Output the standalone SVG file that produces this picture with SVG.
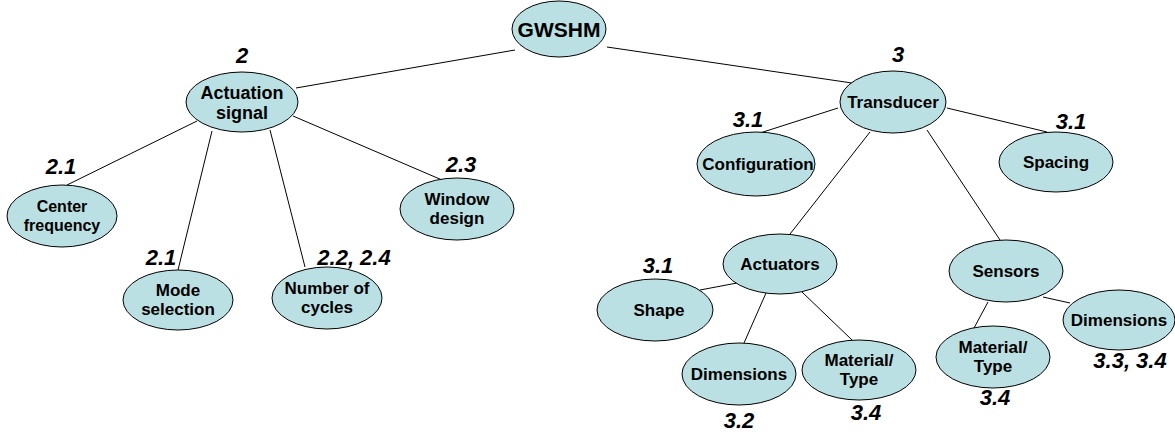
<svg xmlns="http://www.w3.org/2000/svg" width="1175" height="437" viewBox="0 0 1175 437">
<style>
.n ellipse{fill:#BBE0E3;stroke:#000;stroke-width:1}
.n text{font-family:"Liberation Sans",Arial,sans-serif;font-weight:bold;font-size:17px;text-anchor:middle;fill:#000}
.lbl{font-family:"Liberation Sans",Arial,sans-serif;font-weight:bold;font-style:italic;font-size:22px;text-anchor:middle;fill:#000}
#edges line{stroke:#000;stroke-width:1}
</style>
<rect width="1175" height="437" fill="#fff"/>
<g id="edges">
<line x1="515" y1="50" x2="296" y2="88"/>
<line x1="607" y1="47" x2="852" y2="83"/>
<line x1="197" y1="121" x2="67" y2="185"/>
<line x1="212" y1="131" x2="178" y2="270"/>
<line x1="270" y1="130" x2="305" y2="267"/>
<line x1="293" y1="116" x2="442" y2="180"/>
<line x1="838" y1="108" x2="760" y2="133"/>
<line x1="947" y1="108" x2="1047" y2="132"/>
<line x1="870" y1="132" x2="790" y2="234"/>
<line x1="927" y1="130" x2="1000" y2="240"/>
<line x1="737" y1="283" x2="700" y2="290"/>
<line x1="766" y1="293" x2="744" y2="343"/>
<line x1="802" y1="292" x2="852" y2="340"/>
<line x1="988" y1="302" x2="974" y2="328"/>
<line x1="1043" y1="297" x2="1070" y2="303"/>
</g>
<g id="gwshm" class="n"><ellipse cx="559" cy="29" rx="47" ry="28"/><text x="559" y="37" style="font-size:21px">GWSHM</text></g>
<g id="actuation" class="n"><ellipse cx="242" cy="102" rx="56" ry="30"/><text x="242" y="99" style="font-size:18px">Actuation</text><text x="242" y="119" style="font-size:18px">signal</text></g>
<g id="center" class="n"><ellipse cx="62" cy="216" rx="55" ry="31"/><text x="62" y="212" style="font-size:16px">Center</text><text x="62" y="231" style="font-size:16px">frequency</text></g>
<g id="mode" class="n"><ellipse cx="178" cy="300" rx="55" ry="30"/><text x="178" y="296">Mode</text><text x="178" y="315">selection</text></g>
<g id="cycles" class="n"><ellipse cx="327" cy="298" rx="55" ry="31"/><text x="327" y="294">Number of</text><text x="327" y="313">cycles</text></g>
<g id="window" class="n"><ellipse cx="457" cy="209" rx="57" ry="31"/><text x="457" y="205">Window</text><text x="457" y="224">design</text></g>
<g id="transducer" class="n"><ellipse cx="893" cy="102" rx="53" ry="31"/><text x="893" y="108">Transducer</text></g>
<g id="configuration" class="n"><ellipse cx="756" cy="164" rx="59" ry="32"/><text x="758" y="170">Configuration</text></g>
<g id="spacing" class="n"><ellipse cx="1056" cy="162" rx="57" ry="30"/><text x="1056" y="168">Spacing</text></g>
<g id="actuators" class="n"><ellipse cx="780" cy="264" rx="57" ry="30"/><text x="780" y="270">Actuators</text></g>
<g id="shape" class="n"><ellipse cx="655" cy="310" rx="58" ry="31"/><text x="659" y="316">Shape</text></g>
<g id="dimensions-act" class="n"><ellipse cx="739" cy="374" rx="57" ry="31"/><text x="739" y="380">Dimensions</text></g>
<g id="material-act" class="n"><ellipse cx="859" cy="370" rx="57" ry="30"/><text x="859" y="366">Material/</text><text x="859" y="385">Type</text></g>
<g id="sensors" class="n"><ellipse cx="1006" cy="271" rx="57" ry="31"/><text x="1006" y="277">Sensors</text></g>
<g id="material-sen" class="n"><ellipse cx="993" cy="357" rx="57" ry="31"/><text x="993" y="353">Material/</text><text x="993" y="372">Type</text></g>
<g id="dimensions-sen" class="n"><ellipse cx="1119" cy="320" rx="56" ry="30"/><text x="1119" y="326">Dimensions</text></g>
<g id="labels">
<text class="lbl" x="242" y="63">2</text>
<text class="lbl" x="61" y="174">2.1</text>
<text class="lbl" x="161" y="265">2.1</text>
<text class="lbl" x="354" y="265">2.2, 2.4</text>
<text class="lbl" x="461" y="172">2.3</text>
<text class="lbl" x="898" y="62">3</text>
<text class="lbl" x="748" y="127">3.1</text>
<text class="lbl" x="1071" y="129">3.1</text>
<text class="lbl" x="658" y="273">3.1</text>
<text class="lbl" x="739" y="428">3.2</text>
<text class="lbl" x="866" y="420">3.4</text>
<text class="lbl" x="995" y="405">3.4</text>
<text class="lbl" x="1130" y="368">3.3, 3.4</text>
</g>
</svg>
